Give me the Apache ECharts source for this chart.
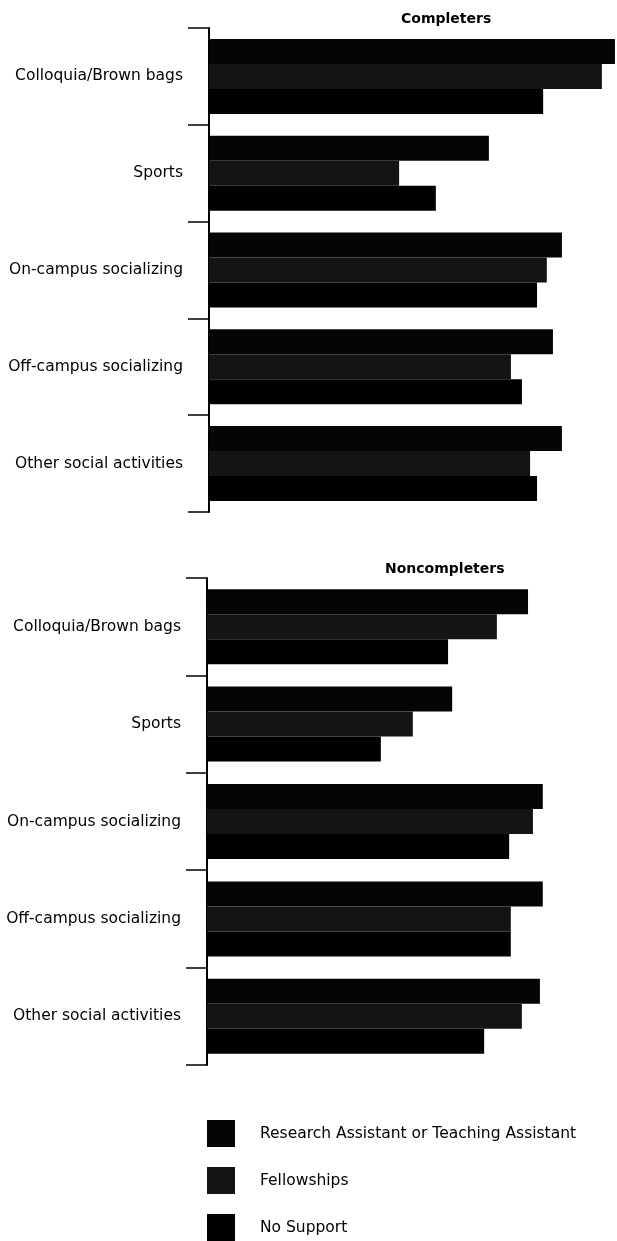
<!DOCTYPE html>
<html>
<head>
<meta charset="utf-8">
<script src="https://cdn.jsdelivr.net/npm/echarts@6/dist/echarts.min.js"></script>
<style>
  html, body { margin: 0; padding: 0; background: #fff; }
  #chart { width: 617px; height: 1241px; }
</style>
</head>
<body>
<div id="chart"></div>
<script>
  // activities, top to bottom
  const categories = ['Colloquia/Brown bags', 'Sports', 'On-campus socializing', 'Off-campus socializing', 'Other social activities']
  const seriesNames = ['Research Assistant or Teaching Assistant', 'Fellowships', 'No Support']
  const seriesColors = ['#050505', '#141414', '#000000']

  // completers
  const completersRA = [99.5, 68.6, 86.5, 84.3, 86.5]
  const completersFellow = [96.3, 46.6, 82.8, 74.0, 78.7]
  const completersNone = [81.9, 55.6, 80.4, 76.7, 80.4]

  // noncompleters
  const noncompletersRA = [78.3, 59.8, 81.9, 81.9, 81.2]
  const noncompletersFellow = [70.7, 50.2, 79.5, 74.1, 76.8]
  const noncompletersNone = [58.8, 42.4, 73.7, 74.1, 67.6]

  const labelFont = 'DejaVu Sans'

  function catAxis (gridIndex) {
    return {
      type: 'category',
      gridIndex: gridIndex,
      data: categories,
      inverse: true,
      axisLine: { lineStyle: { color: '#000', width: 2 } },
      axisTick: { show: true, length: 21, lineStyle: { color: '#000', width: 1.5 } },
      axisLabel: { margin: 26, color: '#000', fontFamily: labelFont, fontSize: 15.5 }
    }
  }

  function valAxis (gridIndex) {
    return { type: 'value', gridIndex: gridIndex, min: 0, max: 100, show: false }
  }

  function bars (gridIndex, lists) {
    return lists.map((vals, i) => ({
      name: seriesNames[i],
      type: 'bar',
      xAxisIndex: gridIndex,
      yAxisIndex: gridIndex,
      data: vals,
      barWidth: 25,
      barGap: 0,
      itemStyle: { color: seriesColors[i] }
    }))
  }

  let chart = echarts.init(document.getElementById('chart'), null, { renderer: 'canvas' })
  let option = {
    animation: false,
    backgroundColor: '#fff',
    title: [
      { text: 'Completers', left: 401, top: 12, padding: 0,
        textStyle: { fontFamily: labelFont, fontWeight: 'bold', fontSize: 14, color: '#000' } },
      { text: 'Noncompleters', left: 385, top: 562, padding: 0,
        textStyle: { fontFamily: labelFont, fontWeight: 'bold', fontSize: 14, color: '#000' } }
    ],
    legend: {
      data: seriesNames,
      orient: 'vertical',
      left: 207,
      top: 1120,
      padding: 0,
      itemGap: 20,
      itemWidth: 28,
      itemHeight: 27,
      icon: 'rect',
      textStyle: { fontFamily: labelFont, fontSize: 15.5, color: '#000', padding: [0, 0, 0, 20] }
    },
    grid: [
      { left: 209, top: 28, width: 408, height: 484 },
      { left: 207, top: 578, width: 410, height: 487 }
    ],
    xAxis: [valAxis(0), valAxis(1)],
    yAxis: [catAxis(0), catAxis(1)],
    series: bars(0, [completersRA, completersFellow, completersNone])
      .concat(bars(1, [noncompletersRA, noncompletersFellow, noncompletersNone]))
  }
  chart.setOption(option)
</script>
</body>
</html>
